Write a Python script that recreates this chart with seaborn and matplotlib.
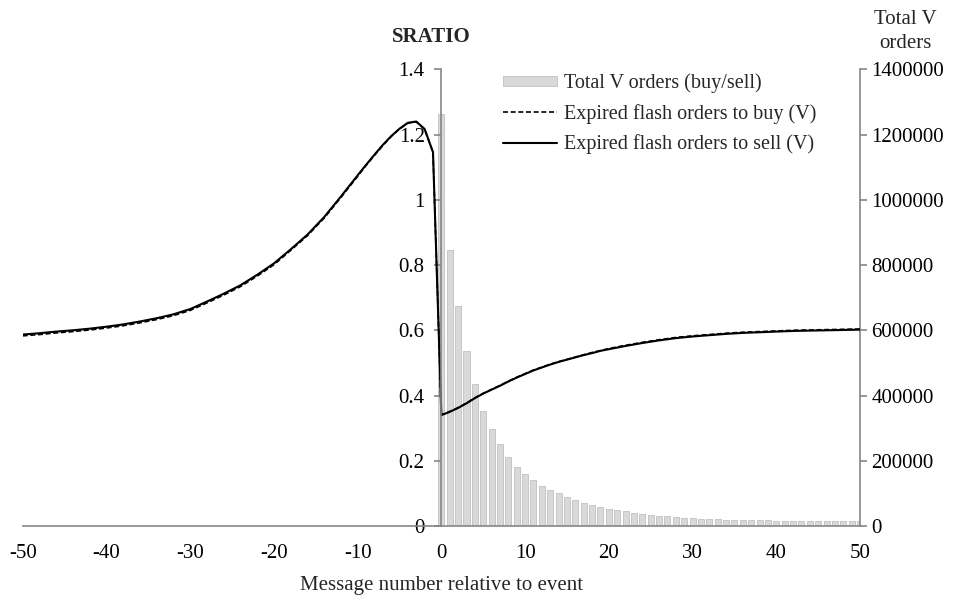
import numpy as np
import pandas as pd
import matplotlib
matplotlib.use("Agg")
import matplotlib.pyplot as plt
import seaborn as sns
from matplotlib.patches import Patch
from matplotlib.lines import Line2D

sns.set_style("white")
plt.rcParams['font.family'] = ['Liberation Serif', 'DejaVu Serif']

# message number for the two SRATIO lines
line_x = [-50, -48, -46, -44, -42, -40, -38, -36, -34, -32, -30, -28, -26, -24,
          -22, -20, -18, -16, -14, -12, -10, -9, -8, -7, -6, -5, -4, -3, -2, -1,
          0, 1, 2, 3, 4, 5, 6, 7, 8, 9, 10, 11, 12, 13, 14, 15, 16, 17, 18, 19,
          20, 22, 24, 26, 28, 30, 32, 34, 36, 38, 40, 42, 44, 46, 48, 50]

sell_ratio = [0.587, 0.591, 0.596, 0.600, 0.605, 0.611, 0.618, 0.627, 0.637, 0.649,
              0.665, 0.688, 0.712, 0.738, 0.770, 0.805, 0.848, 0.893, 0.947, 1.010,
              1.075, 1.107, 1.138, 1.168, 1.195, 1.218, 1.236, 1.240, 1.217, 1.146,
              0.340, 0.350, 0.362, 0.376, 0.392, 0.406, 0.418, 0.430, 0.443, 0.455,
              0.466, 0.477, 0.486, 0.495, 0.503, 0.510, 0.517, 0.524, 0.530, 0.537,
              0.542, 0.552, 0.561, 0.569, 0.576, 0.581, 0.585, 0.589, 0.592, 0.594,
              0.596, 0.598, 0.599, 0.600, 0.601, 0.602]

buy_ratio = [0.583, 0.587, 0.592, 0.596, 0.601, 0.607, 0.614, 0.623, 0.633, 0.645,
             0.661, 0.684, 0.708, 0.734, 0.766, 0.801, 0.845, 0.890, 0.944, 1.007,
             1.072, 1.105, 1.136, 1.166, 1.194, 1.217, 1.235, 1.239, 1.216, 1.145,
             0.341, 0.351, 0.363, 0.377, 0.393, 0.407, 0.419, 0.431, 0.444, 0.456,
             0.467, 0.478, 0.487, 0.496, 0.504, 0.511, 0.518, 0.525, 0.532, 0.538,
             0.544, 0.554, 0.563, 0.571, 0.578, 0.583, 0.587, 0.591, 0.594, 0.596,
             0.598, 0.600, 0.601, 0.602, 0.603, 0.604]

# total V orders after the event (bars)
bar_x = list(range(0, 51))
total_orders = [1262000, 845000, 676000, 536000, 434000, 354000, 296000, 250000,
                213000, 182000, 161000, 141000, 124000, 111000, 100000, 88000,
                79000, 72000, 64000, 57000, 53000, 49000, 45000, 41000, 38000,
                35000, 32000, 30000, 28000, 26000, 24000, 23000, 22000, 21000,
                20000, 19000, 18000, 17000, 17000, 17000, 16000, 16000, 16000,
                16000, 15000, 15000, 14000, 14000, 14000, 14000, 14000]

x_ticks = [-50, -40, -30, -20, -10, 0, 10, 20, 30, 40, 50]
left_ticks = [0, 0.2, 0.4, 0.6, 0.8, 1, 1.2, 1.4]
right_ticks = [0, 200000, 400000, 600000, 800000, 1000000, 1200000, 1400000]

axis_grey = '#868686'
bar_grey = '#d9d9d9'
fs = 15

fig = plt.figure(figsize=(9.54, 5.96), dpi=100)
ax = fig.add_axes([0.0238, 0.1174, 0.8777, 0.7663])
ax_r = ax.twinx()

bars = pd.DataFrame({'x': bar_x, 'orders': total_orders})
sns.barplot(data=bars, x='x', y='orders', native_scale=True, width=0.72,
            color=bar_grey, edgecolor='#c0c0c0', linewidth=0.6,
            errorbar=None, saturation=1, ax=ax_r)

lines = pd.DataFrame({'x': line_x, 'buy': buy_ratio, 'sell': sell_ratio})
sns.lineplot(data=lines, x='x', y='buy', color='black', linewidth=1.2,
             linestyle=(0, (3, 1.6)), ax=ax)
sns.lineplot(data=lines, x='x', y='sell', color='black', linewidth=1.5, ax=ax)

ax.set_zorder(ax_r.get_zorder() + 1)
ax.patch.set_visible(False)

ax.set_xlim(-50, 50)
ax.set_ylim(0, 1.4)
ax_r.set_ylim(0, 1400000)

# left axis sits at x = 0
ax.spines['left'].set_position(('data', 0))
for s in ['top', 'right']:
    ax.spines[s].set_visible(False)
for s in ['top', 'left', 'bottom']:
    ax_r.spines[s].set_visible(False)
for s in [ax.spines['left'], ax.spines['bottom'], ax_r.spines['right']]:
    s.set_color(axis_grey)
    s.set_linewidth(1.2)

ax.set_xticks(x_ticks)
ax.set_xticklabels([str(t) for t in x_ticks])
ax.set_yticks(left_ticks)
ax.set_yticklabels(['0', '0.2', '0.4', '0.6', '0.8', '1', '1.2', '1.4'])
ax_r.set_yticks(right_ticks)
ax_r.set_yticklabels([str(t) for t in right_ticks])

ax.tick_params(axis='both', direction='out', length=5, width=1.2,
               color=axis_grey, labelsize=fs, labelcolor='black')
ax.tick_params(axis='y', pad=7)
ax.tick_params(axis='x', pad=8)
ax_r.tick_params(axis='y', direction='out', length=5, width=1.2,
                 color=axis_grey, labelsize=fs, labelcolor='black', pad=3)

ax.set_xlabel('Message number relative to event', fontsize=fs, labelpad=9)
ax.set_ylabel('')
ax_r.set_ylabel('')
ax_r.set_xlabel('')

fig.text(0.452, 0.938, 'SRATIO', ha='center', va='center',
         fontsize=fs, fontweight='bold')
fig.text(0.949, 0.947, 'Total V\norders', ha='center', va='center',
         fontsize=fs, linespacing=1.35)

handles = [Patch(facecolor=bar_grey, edgecolor='#c0c0c0', linewidth=0.6),
           Line2D([], [], color='black', linewidth=1.2, linestyle=(0, (3, 1.6))),
           Line2D([], [], color='black', linewidth=1.5)]
labels = ['Total V orders (buy/sell)', 'Expired flash orders to buy (V)',
          'Expired flash orders to sell (V)']
ax.legend(handles, labels, loc='upper left', bbox_to_anchor=(0.5736, 0.991),
          frameon=False, fontsize=14.5, handlelength=2.7, handleheight=0.4,
          handletextpad=0.35, labelspacing=0.52, borderaxespad=0, borderpad=0)

fig.savefig('out.png', dpi=100)
